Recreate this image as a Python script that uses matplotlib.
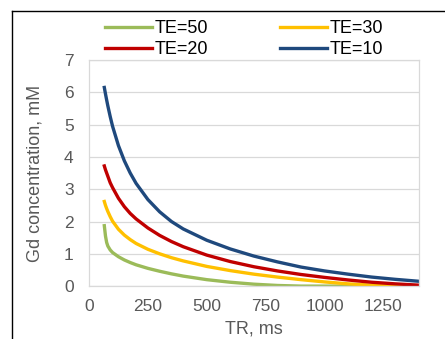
import numpy as np
import matplotlib.pyplot as plt
from matplotlib.lines import Line2D

plt.rcParams['font.family'] = ['Liberation Sans', 'DejaVu Sans']

# TR values (ms) and Gd concentration (mM)
tr = [65, 70, 75, 80, 90, 100, 125, 150, 175, 200, 250, 300, 350, 400,
      500, 600, 700, 800, 900, 1000, 1100, 1200, 1300, 1400]
te50 = [1.87, 1.55, 1.35, 1.24, 1.12, 1.04, 0.91, 0.81, 0.73, 0.66, 0.55, 0.46, 0.38, 0.31,
        0.2, 0.12, 0.06, 0.02, 0.0, 0.0, 0.0, 0.0, 0.0, 0.0]
te30 = [2.62, 2.5, 2.4, 2.31, 2.15, 2.01, 1.76, 1.58, 1.44, 1.32, 1.14, 1.0, 0.88, 0.78,
        0.61, 0.48, 0.37, 0.28, 0.2, 0.13, 0.07, 0.03, 0.01, 0.0]
te20 = [3.72, 3.6, 3.5, 3.4, 3.2, 3.05, 2.72, 2.46, 2.25, 2.08, 1.8, 1.57, 1.38, 1.22,
        0.96, 0.76, 0.6, 0.47, 0.36, 0.27, 0.19, 0.12, 0.07, 0.03]
te10 = [6.15, 5.95, 5.76, 5.58, 5.25, 4.95, 4.35, 3.88, 3.5, 3.18, 2.68, 2.3, 2.0, 1.77,
        1.42, 1.15, 0.93, 0.75, 0.59, 0.47, 0.37, 0.28, 0.21, 0.15]

xticks = [0, 250, 500, 750, 1000, 1250]
yticks = [0, 1, 2, 3, 4, 5, 6, 7]

txt = '#595959'
grid = '#D9D9D9'

fig = plt.figure(figsize=(4.45, 3.39), dpi=100)
ax = fig.add_axes([0.2, 0.156, 0.741, 0.667])

l50, = ax.plot(tr, te50, color='#9BBB59', lw=2.4, label='TE=50')
l30, = ax.plot(tr, te30, color='#FFC000', lw=2.4, label='TE=30')
l20, = ax.plot(tr, te20, color='#C00000', lw=2.4, label='TE=20')
l10, = ax.plot(tr, te10, color='#1F497D', lw=2.4, label='TE=10')

ax.set_xlim(0, 1400)
ax.set_ylim(0, 7)
ax.set_xticks(xticks)
ax.set_yticks(yticks)
ax.tick_params(length=0, labelsize=12.5, colors=txt)
ax.tick_params(axis='y', pad=11)
ax.tick_params(axis='x', pad=9)
ax.grid(axis='y', color=grid, lw=0.9)
ax.set_axisbelow(True)
for s in ax.spines.values():
    s.set_color(grid)
    s.set_linewidth(0.9)

ax.set_xlabel('TR, ms', fontsize=13, color=txt, labelpad=5)
ax.set_ylabel('Gd concentration, mM', fontsize=13, color=txt, labelpad=15)

fig.legend([l50, l20, l30, l10], ['TE=50', 'TE=20', 'TE=30', 'TE=10'],
           ncol=2, loc='upper center', bbox_to_anchor=(0.548, 0.967),
           frameon=False, fontsize=13, handlelength=2.6, handletextpad=0.15,
           columnspacing=4.0, labelspacing=0.2, borderpad=0)

# frame lines of the surrounding table cell
fig.add_artist(Line2D([12 / 445, 12 / 445], [0, 1 - 11 / 339], color='black', lw=1))
fig.add_artist(Line2D([12 / 445, 1], [1 - 11 / 339, 1 - 11 / 339], color='black', lw=1))

plt.savefig('out.png', dpi=100)
